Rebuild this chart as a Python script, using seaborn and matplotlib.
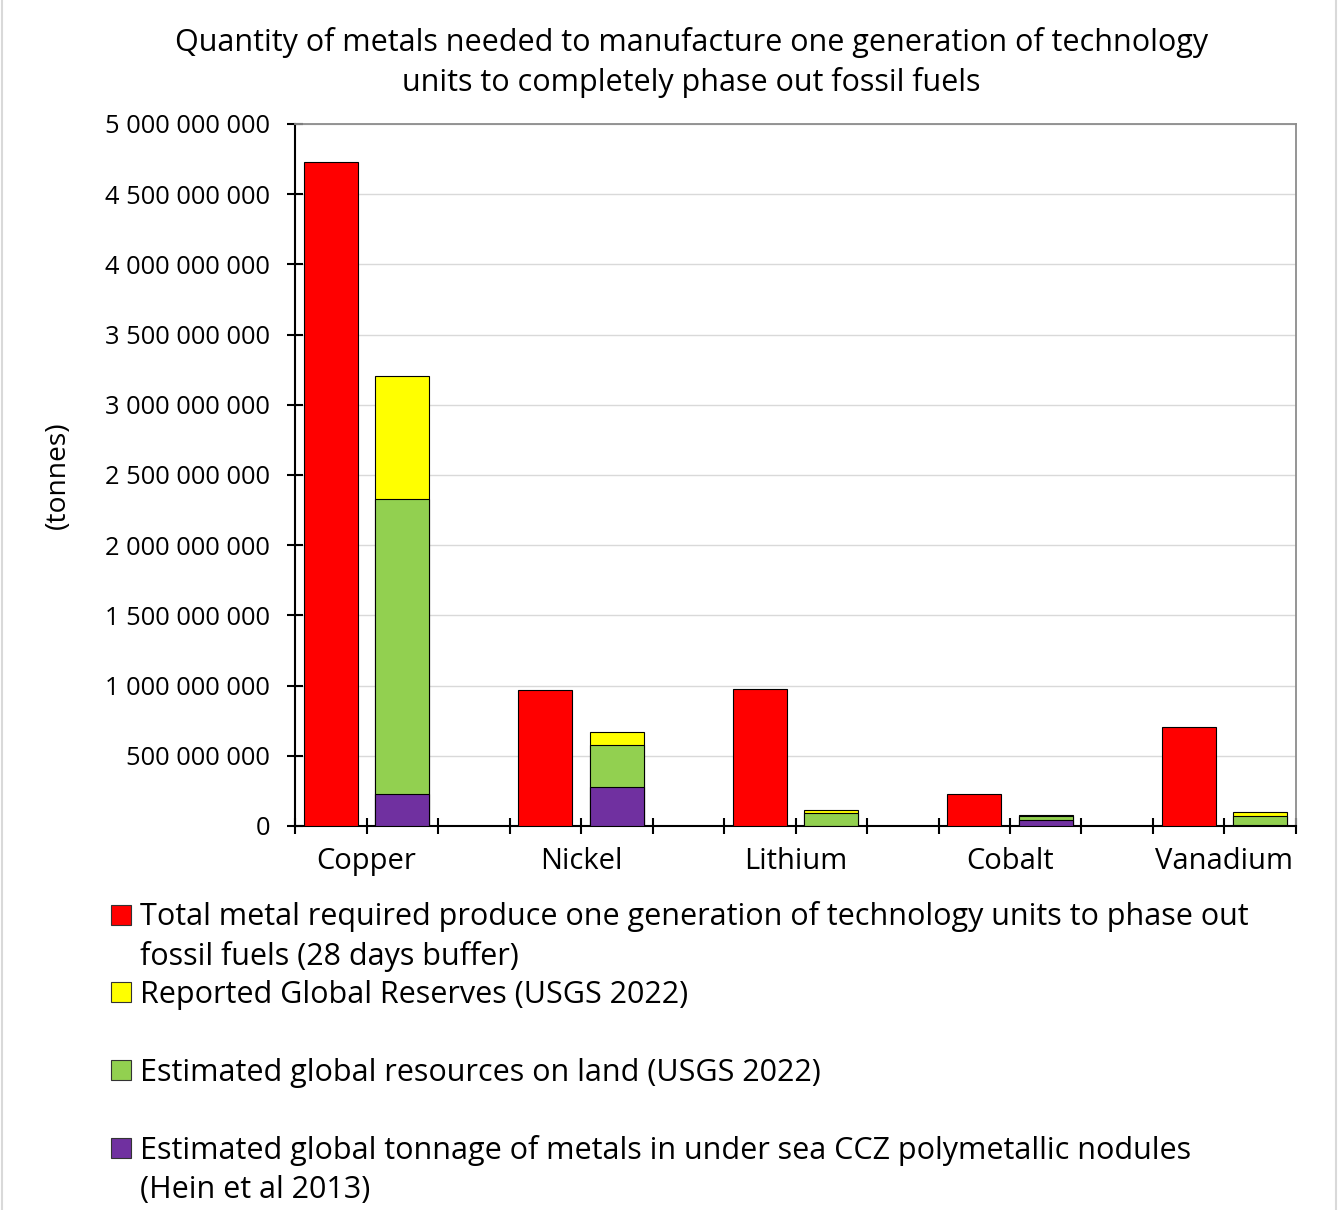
import matplotlib
matplotlib.use("Agg")
import matplotlib.pyplot as plt
from matplotlib.patches import Patch
from matplotlib.lines import Line2D
from matplotlib.ticker import FuncFormatter, FixedLocator, NullFormatter
import seaborn as sns
import pandas as pd

# Metals and tonnages (tonnes)
metals = ["Copper", "Nickel", "Lithium", "Cobalt", "Vanadium"]
required = [4.728e9, 0.971e9, 0.976e9, 0.225e9, 0.704e9]
reserves = [0.880e9, 0.095e9, 0.022e9, 0.0076e9, 0.024e9]
land_resources = [2.100e9, 0.300e9, 0.089e9, 0.025e9, 0.063e9]
ccz_nodules = [0.226e9, 0.274e9, 0.0028e9, 0.044e9, 0.0094e9]

series_labels = [
    "Total metal required produce one generation of technology units to phase out",
    "Reported Global Reserves (USGS 2022)",
    "Estimated global resources on land (USGS 2022)",
    "Estimated global tonnage of metals in under sea CCZ polymetallic nodules",
]
label_continuations = ["fossil fuels (28 days buffer)", None, None, "(Hein et al 2013)"]

RED, YELLOW, GREEN, PURPLE = "#FF0000", "#FFFF00", "#92D050", "#7030A0"

# Each metal occupies three category slots: requirement, supply stack, gap
n_slots = 3 * len(metals) - 1
req_slots = [3 * i for i in range(len(metals))]
stack_slots = [3 * i + 1 for i in range(len(metals))]

df_req = pd.DataFrame({"slot": req_slots, "value": required})
cum_purple = list(ccz_nodules)
cum_green = [p + g for p, g in zip(ccz_nodules, land_resources)]
cum_yellow = [g + y for g, y in zip(cum_green, reserves)]

sns.set_theme(style="white")
plt.rcParams["font.family"] = ["Open Sans", "DejaVu Sans"]
plt.rcParams["text.color"] = "black"

fig = plt.figure(figsize=(13.38, 12.10), dpi=100)
ax = fig.add_axes([0.2205, 0.3174, 0.7481, 0.5802])

bar_kw = dict(order=list(range(n_slots)), width=0.76, edgecolor="black",
              linewidth=0.8, saturation=1, errorbar=None, ax=ax, zorder=3)

sns.barplot(data=df_req, x="slot", y="value", color=RED, **bar_kw)
for totals, col in [(cum_yellow, YELLOW), (cum_green, GREEN), (cum_purple, PURPLE)]:
    d = pd.DataFrame({"slot": stack_slots, "value": totals})
    sns.barplot(data=d, x="slot", y="value", color=col, **bar_kw)

ax.set_xlim(-0.5, n_slots - 0.5)
ax.set_ylim(0, 5e9)
ax.set_yticks([i * 5e8 for i in range(11)])
ax.yaxis.set_major_formatter(FuncFormatter(lambda v, p: f"{v:,.0f}".replace(",", " ")))
ax.grid(axis="y", color="#D9D9D9", linewidth=1.0, zorder=0)
ax.set_axisbelow(True)

# slot boundaries as cross ticks, metal names between each pair of bars
ax.xaxis.remove_overlapping_locs = False
ax.xaxis.set_major_locator(FixedLocator([s - 0.5 for s in range(n_slots + 1)]))
ax.xaxis.set_major_formatter(NullFormatter())
ax.xaxis.set_minor_locator(FixedLocator([s + 0.5 for s in req_slots]))
ax.set_xticklabels(metals, minor=True)
ax.tick_params(axis="x", which="major", bottom=True, direction="inout", length=12,
               width=1.5, color="black")
ax.tick_params(axis="x", which="minor", bottom=True, labelbottom=True, length=0, pad=15,
               labelsize=21, labelcolor="black")
ax.tick_params(axis="y", which="major", left=True, direction="inout", length=12, width=1.5,
               color="black", pad=12, labelsize=18.3, labelcolor="black")
ax.set_xlabel("")
ax.set_ylabel("(tonnes)", fontsize=20.3, labelpad=24, color="black")

for side in ["left", "bottom"]:
    ax.spines[side].set_color("black")
    ax.spines[side].set_linewidth(1.5)
for side in ["top", "right"]:
    ax.spines[side].set_color("#8C8C8C")
    ax.spines[side].set_linewidth(1.3)

fig.text(0.517, 1 - 43 / 1210, "Quantity of metals needed to manufacture one generation of technology",
         ha="center", va="center", fontsize=22, color="black")
fig.text(0.517, 1 - 82 / 1210, "units to completely phase out fossil fuels",
         ha="center", va="center", fontsize=22, color="black")

# Legend entries stacked below the plot
leg_colors = [RED, YELLOW, GREEN, PURPLE]
leg_y = [917, 995, 1073, 1150]
for lab, col, ypx, cont in zip(series_labels, leg_colors, leg_y, label_continuations):
    h = Patch(facecolor=col, edgecolor="#333333", linewidth=0.8)
    fig.legend(handles=[h], labels=[lab], loc="center left",
               bbox_to_anchor=(111 / 1338, 1 - ypx / 1210), frameon=False,
               fontsize=22, handlelength=0.65, handleheight=0.65,
               handletextpad=0.3, borderpad=0, borderaxespad=0, labelcolor="black")
    if cont:
        fig.text(140 / 1338, 1 - (ypx + 40) / 1210, cont, ha="left", va="center",
                 fontsize=22, color="black")

# chart area side borders
fig.add_artist(Line2D([1.5 / 1338, 1.5 / 1338], [0, 1], color="#D9D9D9", linewidth=1.5))
fig.add_artist(Line2D([1 - 2.5 / 1338, 1 - 2.5 / 1338], [0, 1], color="#D9D9D9", linewidth=1.5))

fig.savefig("out.png", dpi=100, facecolor="white")
